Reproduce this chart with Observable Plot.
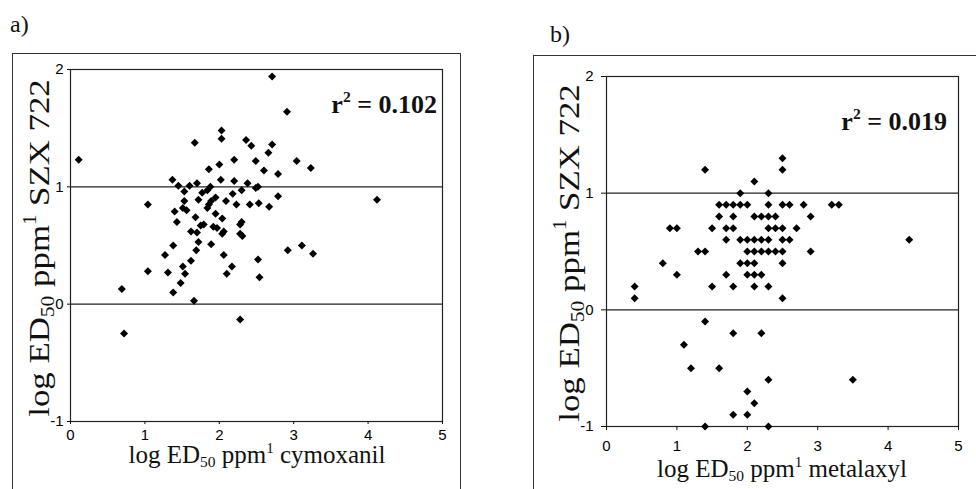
<!DOCTYPE html>
<html><head><meta charset="utf-8">
<script src="https://cdn.jsdelivr.net/npm/d3@7"></script>
<script src="https://cdn.jsdelivr.net/npm/@observablehq/plot@0.6"></script>
<style>
html,body{margin:0;padding:0;background:#fff;}
#page{position:relative;width:976px;height:489px;overflow:hidden;background:#fff;}
#page svg g[aria-label$="tick label"] text,#page svg g[aria-label$="tick label"]{font-size:15px !important;font-family:"Liberation Sans",Arial,sans-serif !important;fill:#000;}
.box{position:absolute;border:1.3px solid #333;}
.panel{position:absolute;top:0;}
.lab{position:absolute;font-family:"Liberation Serif","Times New Roman",serif;color:#111;white-space:nowrap;line-height:0.6;}
.lab sub{font-size:0.62em;vertical-align:-0.28em;line-height:0;}
.lab sup{font-size:0.6em;vertical-align:0.7em;line-height:0;}
.rot{transform:translate(-50%,-50%) rotate(-90deg) scaleX(1.16);line-height:0.8;}
.r2{font-weight:bold;transform:translateX(-100%);line-height:0.8;}
.xl{transform:translateX(-50%);}
</style>
</head><body>
<div id="page"></div>
<script>
// ---------- data ----------
const xTicks = [0, 1, 2, 3, 4, 5];
const yTicks = [-1, 0, 1, 2];
const gridY = [0, 1];

// panel a: log ED50 cymoxanil (x) vs log ED50 SZX 722 (y)
const aX = [0.11,2.03,2.03,1.67,2.36,2.43,2.20,2.49,1.86,2.00,2.02,1.37,1.45,1.60,1.70,1.53,1.77,1.84,1.88,2.20,
            2.38,2.30,2.18,2.49,2.52,1.04,1.53,1.72,1.89,1.86,1.84,1.95,2.09,2.23,2.41,2.53,1.40,1.51,1.56,1.43,
            1.68,1.95,1.79,1.75,2.04,1.92,1.97,2.30,2.28,1.62,1.70,2.06,2.04,2.28,2.31,1.72,1.89,1.38,1.69,2.71,
            2.91,2.71,2.66,3.04,2.60,2.79,3.23,2.79,2.67,4.12,2.92,3.11,0.69,0.72,1.04,1.27,1.31,1.51,1.54,1.62,
            1.48,1.38,1.66,2.06,2.10,2.17,2.28,2.52,2.54,3.26];
const aY = [1.23,1.48,1.41,1.375,1.40,1.35,1.23,1.22,1.15,1.19,1.06,1.06,1.01,1.01,1.03,0.96,0.95,0.97,1.00,1.05,
            1.03,0.97,0.94,0.99,1.00,0.85,0.88,0.89,0.88,0.85,0.82,0.91,0.88,0.85,0.85,0.86,0.79,0.82,0.80,0.70,
            0.74,0.77,0.68,0.67,0.73,0.66,0.65,0.70,0.68,0.62,0.61,0.62,0.60,0.60,0.58,0.53,0.51,0.50,0.46,1.94,
            1.64,1.36,1.29,1.22,1.14,1.11,1.16,0.92,0.83,0.89,0.46,0.50,0.13,-0.25,0.28,0.42,0.27,0.32,0.26,0.37,
            0.18,0.10,0.03,0.42,0.26,0.32,-0.13,0.38,0.23,0.43];
const r2a = "0.102";

// panel b: log ED50 metalaxyl (x) vs log ED50 SZX 722 (y)
const bX = [1.4,2.1,2.5,2.5,1.9,2.3,
            1.6,1.7,1.8,1.9,2.0,2.3,2.5,2.6,2.8,3.2,3.3,
            1.6,1.8,2.1,2.2,2.3,2.4,2.9,
            0.9,1.0,1.5,1.7,1.8,2.3,2.4,2.5,2.7,
            1.7,1.9,2.0,2.1,2.2,2.3,2.5,2.6,4.3,
            1.3,1.4,2.0,2.1,2.2,2.3,2.4,2.5,2.9,
            0.8,1.9,2.0,2.1,2.5,
            1.0,1.7,2.0,2.1,2.2,
            0.4,1.5,1.8,2.1,2.3,
            0.4,2.5,
            1.4,1.8,2.2,1.1,1.2,1.6,2.3,3.5,2.0,2.1,1.8,2.0,1.4,2.3];
const bY = [1.2,1.1,1.3,1.2,1.0,1.0,
            0.9,0.9,0.9,0.9,0.9,0.9,0.9,0.9,0.9,0.9,0.9,
            0.8,0.8,0.8,0.8,0.8,0.8,0.8,
            0.7,0.7,0.7,0.7,0.7,0.7,0.7,0.7,0.7,
            0.6,0.6,0.6,0.6,0.6,0.6,0.6,0.6,0.6,
            0.5,0.5,0.5,0.5,0.5,0.5,0.5,0.5,0.5,
            0.4,0.4,0.4,0.4,0.4,
            0.3,0.3,0.3,0.3,0.3,
            0.2,0.2,0.2,0.2,0.2,
            0.1,0.1,
            -0.1,-0.2,-0.2,-0.3,-0.5,-0.5,-0.6,-0.6,-0.7,-0.8,-0.9,-0.9,-1.0,-1.0];
const r2b = "0.019";

const xLabA = "cymoxanil";
const xLabB = "metalaxyl";
const yLab = "SZX 722";

// ---------- drawing ----------
const page = document.getElementById("page");
const tickFont = {fontSize:15, fontFamily:"'Liberation Sans', Arial, sans-serif", fill:"#000"};

function panel(xs, ys, o) {
  return Plot.plot({
    width: o.width, height: 489,
    marginLeft: o.ml, marginRight: o.mr, marginTop: o.mt, marginBottom: o.mb,
    style: {background:"transparent", overflow:"visible", color:"#111"},
    x: {domain:[0,5]},
    y: {domain:[-1,2]},
    marks: [
      Plot.frame({stroke:"#222", strokeWidth:1.2}),
      Plot.ruleY(gridY, {stroke:"#222", strokeWidth:1.2}),
      Plot.axisX({ticks:xTicks, tickSize:o.xts, tickPadding:o.xtp, label:null, tickFormat:d=>String(d), ...tickFont}),
      Plot.axisY({ticks:yTicks, tickSize:o.yts, tickPadding:o.ytp, label:null, tickFormat:d=>String(d), ...tickFont}),
      Plot.dot(xs, {x:xs, y:ys, symbol:"diamond2", fill:"#000", stroke:"none", r:3.6})
    ]
  });
}

function add(html, css, cls) {
  const d = document.createElement("div");
  d.className = cls;
  d.innerHTML = html;
  Object.assign(d.style, css);
  page.appendChild(d);
  return d;
}

// outer frames
add("", {left:"12px", top:"53px", width:"447px", height:"500px"}, "box");
add("", {left:"533px", top:"55px", width:"500px", height:"500px"}, "box");

const pa = panel(aX, aY, {width:470, ml:70, mr:28, mt:69, mb:68, xts:3, xtp:5, yts:3, ytp:4});
pa.classList.add("panel"); pa.style.left = "0px"; page.appendChild(pa);
const pb = panel(bX, bY, {width:486, ml:116, mr:18, mt:76, mb:63, xts:4, xtp:10, yts:5, ytp:8});
pb.classList.add("panel"); pb.style.left = "490px"; page.appendChild(pb);

// texts
add("a)", {left:"10px", top:"15px", fontSize:"24px", lineHeight:"0.8"}, "lab");
add("b)", {left:"550px", top:"25px", fontSize:"24px", lineHeight:"0.8"}, "lab");
add(`r<sup>2</sup> = ${r2a}`, {left:"437px", top:"95px", fontSize:"26px"}, "lab r2");
add(`r<sup>2</sup> = ${r2b}`, {left:"947px", top:"112px", fontSize:"26px"}, "lab r2");
add(`log ED<sub>50</sub> ppm<sup>1</sup> ${xLabA}`, {left:"257px", top:"447px", fontSize:"25px"}, "lab xl");
add(`log ED<sub>50</sub> ppm<sup>1</sup> ${xLabB}`, {left:"782px", top:"461px", fontSize:"25px"}, "lab xl");
add(`log ED<sub>50</sub> ppm<sup>1</sup> ${yLab}`, {left:"39px", top:"248px", fontSize:"30px"}, "lab rot");
add(`log ED<sub>50</sub> ppm<sup>1</sup> ${yLab}`, {left:"569px", top:"253px", fontSize:"30px"}, "lab rot");
</script>
</body></html>
